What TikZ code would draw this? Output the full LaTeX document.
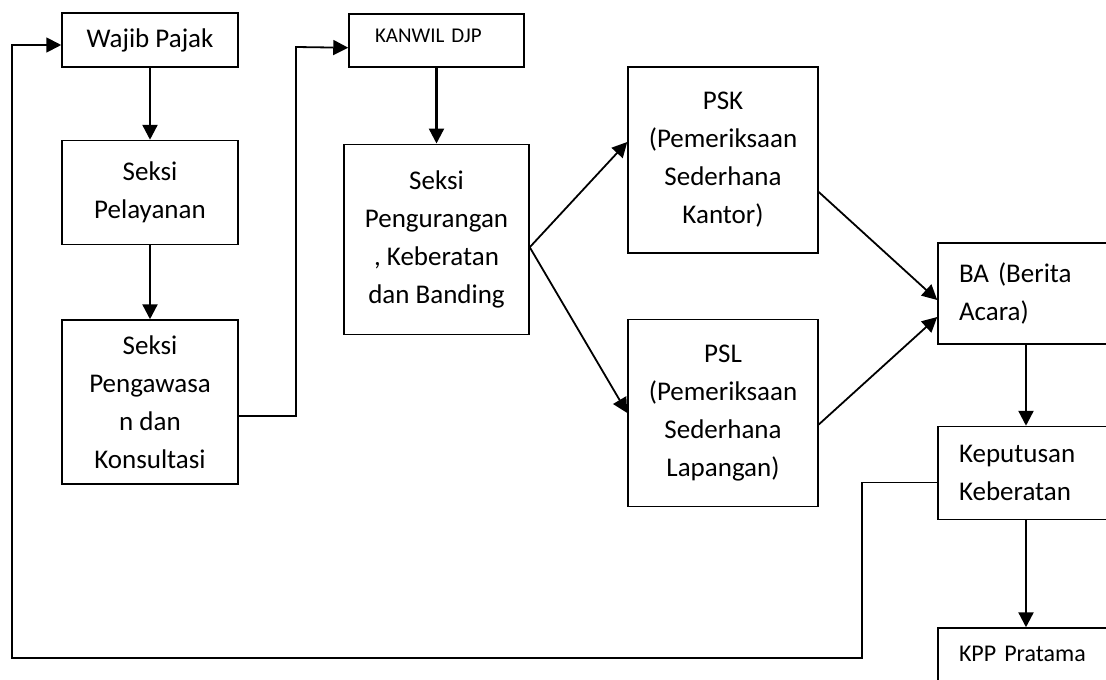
\documentclass[tikz,border=0pt]{standalone}
\usepackage{fontspec}
\setmainfont{Carlito}
\usetikzlibrary{positioning,arrows.meta}

\begin{document}
\begin{tikzpicture}[x=1pt,y=-1pt]

        \tikzset{box/.style = {rectangle, draw, line width=1.5pt, inner sep=0pt, align=center, font=\fontsize{27}{38}\selectfont}, }
        \tikzset{tagbox/.style = {rectangle, draw, line width=1.5pt, inner ysep=0pt, align=left, anchor=north}, }
        \tikzset{arrow/.style = {line width=2.4pt, -{Triangle[length=15pt,width=15pt]}}, }
        \tikzset{elbow/.style = {line width=1.8pt}, }

        \useasboundingbox (0,0) rectangle (1106,680);

        \node[box, minimum width=176pt, minimum height=54pt] (WP) at (150,40) {Wajib Pajak};
        \node[box, minimum width=176pt, minimum height=104pt, below=72pt of WP] (SP) {Seksi\\Pelayanan};
        \node[box, minimum width=176pt, minimum height=164pt, below=74pt of SP] (SPK) {Seksi\\Pengawasa\\n dan\\Konsultasi};

        \node[tagbox, font=\fontsize{21}{25}\selectfont, text width=123pt, inner xsep=26pt, text height=29pt, text depth=24pt] (KW) at (436.5,13) {KANWIL DJP};
        \node[box, minimum width=185pt, minimum height=190pt, below=76pt of KW] (SPKB) {Seksi\\Pengurangan\\, Keberatan\\dan Banding};

        \node[box, minimum width=190pt, minimum height=186pt] (PSK) at (723,160) {PSK\\(Pemeriksaan\\Sederhana\\Kantor)};
        \node[box, minimum width=190pt, minimum height=187pt, below=65pt of PSK] (PSL) {PSL\\(Pemeriksaan\\Sederhana\\Lapangan)};

        \node[box, align=left, text width=134pt, inner xsep=21pt, minimum height=101pt] (BA) at (1026,293.5) {BA (Berita\\Acara)};
        \node[box, align=left, text width=134pt, inner xsep=21pt, minimum height=93pt, below=81pt of BA] (KK) {Keputusan\\Keberatan};
        \node[tagbox, font=\fontsize{24}{28}\selectfont, text width=134pt, inner xsep=21pt, text height=33pt, text depth=60pt, below=107pt of KK] (KPP) {KPP Pratama};

        \coordinate (j1) at (296,47);
        \coordinate (fan) at ([yshift=-8pt]SPKB.east);
        \coordinate (r1) at (862,658);
        \coordinate (r2) at (12,658);

        \draw[arrow] (WP) -- (SP);
        \draw[arrow] (SP) -- (SPK);
        \draw[arrow] (KW) -- (SPKB);
        \draw[arrow] (BA) -- (KK);
        \draw[arrow] (KK) -- (KPP);

        \draw[arrow, elbow] ([yshift=-14pt]SPK.east) -| (j1) -- ([yshift=-7.5pt]KW.west);
        \draw[arrow, elbow] (fan) -- ([yshift=18pt]PSK.west);
        \draw[arrow, elbow] (fan) -- (PSL.west);
        \draw[arrow, elbow] ([yshift=-32pt]PSK.east) -- ([yshift=-6.5pt]BA.west);
        \draw[arrow, elbow] ([yshift=-11.5pt]PSL.east) -- ([yshift=-23.5pt]BA.west);
        \draw[arrow, elbow] ([yshift=-9.5pt]KK.west) -| (r1) -- (r2) |- ([yshift=-5pt]WP.west);

\end{tikzpicture}
\end{document}
